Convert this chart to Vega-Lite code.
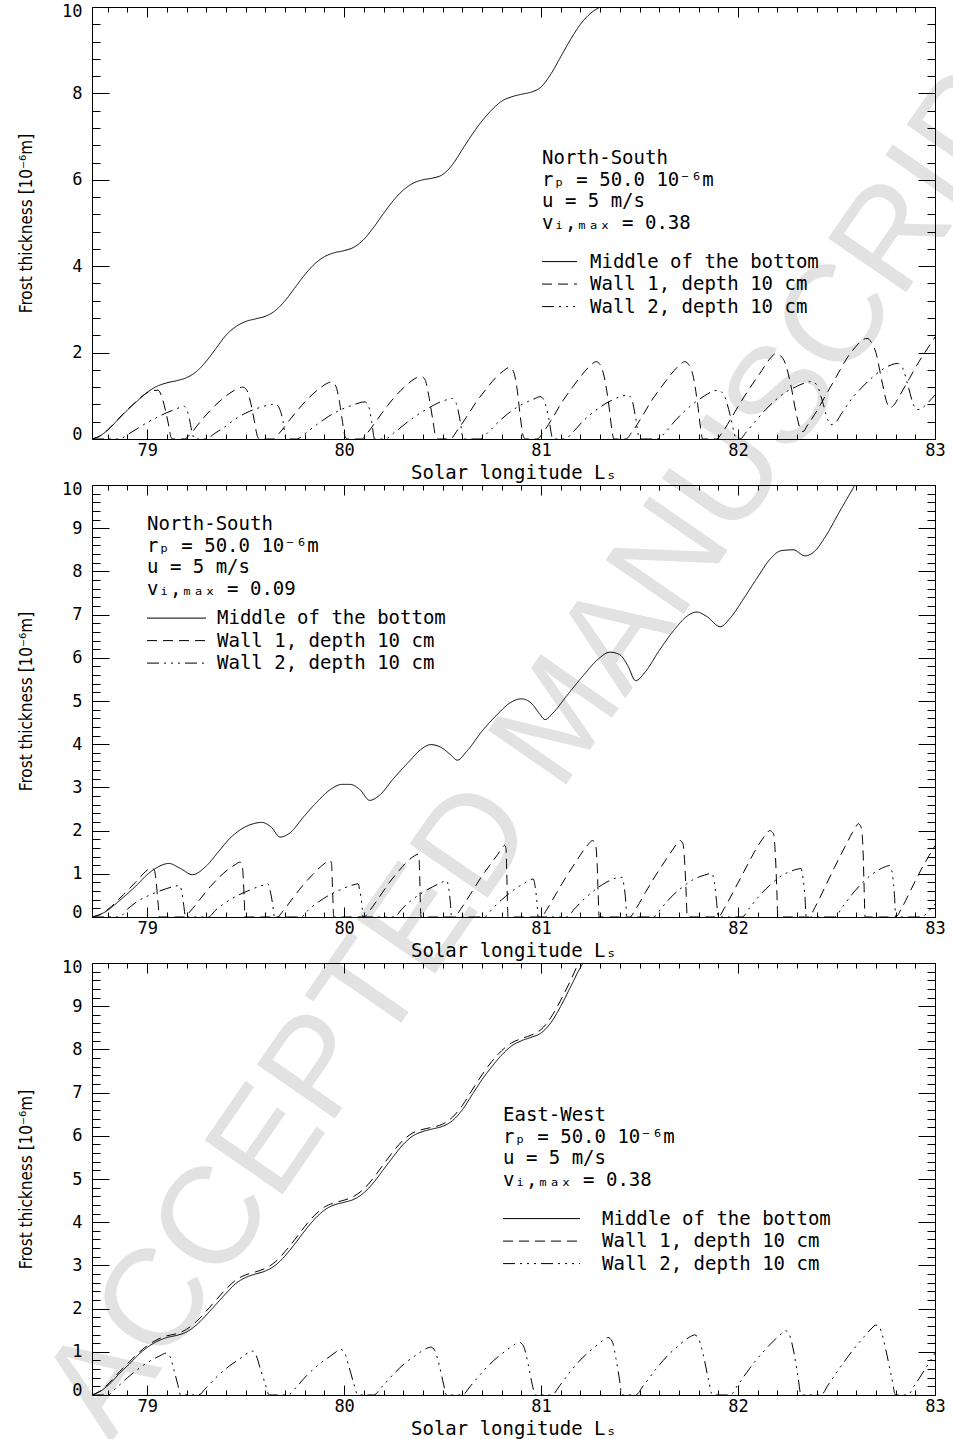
{
  "$schema": "https://vega.github.io/schema/vega-lite/v6.json",
  "autosize": "none",
  "padding": {"left": 92, "top": 7, "right": 861, "bottom": 1432},
  "background": "white",
  "bounds": "flush",
  "spacing": 46,
  "resolve": {"scale": {"strokeDash": "independent"}},
  "config": {
    "view": {"stroke": null},
    "axis": {"domainColor": "black", "tickColor": "black", "labelColor": "black", "titleColor": "black", "grid": false, "labelFont": "DejaVu Sans Mono", "labelFontSize": 17, "tickWidth": 1, "domainWidth": 1, "titleFontWeight": "normal", "labelOverlap": false},
    "legend": {"titleFont": "DejaVu Sans Mono", "titleFontSize": 19, "titleFontWeight": "normal", "titleColor": "black", "titleLineHeight": 21.7, "labelFont": "DejaVu Sans Mono", "labelFontSize": 19, "labelColor": "black", "symbolSize": 100, "symbolStrokeColor": "black", "symbolStrokeWidth": 1, "rowPadding": 2.5, "padding": 0, "offset": 0, "labelLimit": 0, "orient": "none"}
  },
  "datasets": {
    "p1": [
      {"x":78.72,"y":0,"s":"Middle of the bottom"},{"x":78.76,"y":0.07,"s":"Middle of the bottom"},{"x":78.8,"y":0.21,"s":"Middle of the bottom"},{"x":78.85,"y":0.44,"s":"Middle of the bottom"},{"x":78.9,"y":0.67,"s":"Middle of the bottom"},{"x":78.95,"y":0.88,"s":"Middle of the bottom"},{"x":79.0,"y":1.08,"s":"Middle of the bottom"},{"x":79.05,"y":1.22,"s":"Middle of the bottom"},{"x":79.1,"y":1.3,"s":"Middle of the bottom"},{"x":79.15,"y":1.35,"s":"Middle of the bottom"},{"x":79.2,"y":1.42,"s":"Middle of the bottom"},{"x":79.25,"y":1.56,"s":"Middle of the bottom"},{"x":79.3,"y":1.8,"s":"Middle of the bottom"},{"x":79.35,"y":2.1,"s":"Middle of the bottom"},{"x":79.4,"y":2.4,"s":"Middle of the bottom"},{"x":79.45,"y":2.6,"s":"Middle of the bottom"},{"x":79.5,"y":2.72,"s":"Middle of the bottom"},{"x":79.55,"y":2.78,"s":"Middle of the bottom"},{"x":79.6,"y":2.84,"s":"Middle of the bottom"},{"x":79.65,"y":2.97,"s":"Middle of the bottom"},{"x":79.7,"y":3.2,"s":"Middle of the bottom"},{"x":79.75,"y":3.5,"s":"Middle of the bottom"},{"x":79.8,"y":3.8,"s":"Middle of the bottom"},{"x":79.85,"y":4.05,"s":"Middle of the bottom"},{"x":79.9,"y":4.22,"s":"Middle of the bottom"},{"x":79.95,"y":4.31,"s":"Middle of the bottom"},{"x":80.0,"y":4.36,"s":"Middle of the bottom"},{"x":80.05,"y":4.44,"s":"Middle of the bottom"},{"x":80.1,"y":4.62,"s":"Middle of the bottom"},{"x":80.15,"y":4.9,"s":"Middle of the bottom"},{"x":80.2,"y":5.22,"s":"Middle of the bottom"},{"x":80.25,"y":5.52,"s":"Middle of the bottom"},{"x":80.3,"y":5.76,"s":"Middle of the bottom"},{"x":80.35,"y":5.92,"s":"Middle of the bottom"},{"x":80.4,"y":6.0,"s":"Middle of the bottom"},{"x":80.45,"y":6.04,"s":"Middle of the bottom"},{"x":80.5,"y":6.12,"s":"Middle of the bottom"},{"x":80.55,"y":6.35,"s":"Middle of the bottom"},{"x":80.6,"y":6.7,"s":"Middle of the bottom"},{"x":80.65,"y":7.05,"s":"Middle of the bottom"},{"x":80.7,"y":7.36,"s":"Middle of the bottom"},{"x":80.75,"y":7.62,"s":"Middle of the bottom"},{"x":80.8,"y":7.82,"s":"Middle of the bottom"},{"x":80.85,"y":7.92,"s":"Middle of the bottom"},{"x":80.9,"y":7.98,"s":"Middle of the bottom"},{"x":80.95,"y":8.03,"s":"Middle of the bottom"},{"x":81.0,"y":8.15,"s":"Middle of the bottom"},{"x":81.05,"y":8.45,"s":"Middle of the bottom"},{"x":81.1,"y":8.85,"s":"Middle of the bottom"},{"x":81.15,"y":9.25,"s":"Middle of the bottom"},{"x":81.2,"y":9.6,"s":"Middle of the bottom"},{"x":81.25,"y":9.85,"s":"Middle of the bottom"},{"x":81.3,"y":10.0,"s":"Middle of the bottom"},

      {"x":78.72,"y":0,"s":"Wall 1, depth 10 cm"},{"x":78.76,"y":0.07,"s":"Wall 1, depth 10 cm"},{"x":78.8,"y":0.21,"s":"Wall 1, depth 10 cm"},{"x":78.85,"y":0.45,"s":"Wall 1, depth 10 cm"},{"x":78.9,"y":0.68,"s":"Wall 1, depth 10 cm"},{"x":78.95,"y":0.89,"s":"Wall 1, depth 10 cm"},{"x":79.0,"y":1.07,"s":"Wall 1, depth 10 cm"},{"x":79.03,"y":1.12,"s":"Wall 1, depth 10 cm"},{"x":79.055,"y":1.13,"s":"Wall 1, depth 10 cm"},{"x":79.075,"y":0.97,"s":"Wall 1, depth 10 cm"},{"x":79.095,"y":0.62,"s":"Wall 1, depth 10 cm"},{"x":79.11,"y":0.3,"s":"Wall 1, depth 10 cm"},{"x":79.12,"y":0.06,"s":"Wall 1, depth 10 cm"},{"x":79.13,"y":0,"s":"Wall 1, depth 10 cm"},
      {"x":79.19,"y":0,"s":"Wall 1, depth 10 cm"},{"x":79.22,"y":0.12,"s":"Wall 1, depth 10 cm"},{"x":79.27,"y":0.4,"s":"Wall 1, depth 10 cm"},{"x":79.32,"y":0.66,"s":"Wall 1, depth 10 cm"},{"x":79.37,"y":0.88,"s":"Wall 1, depth 10 cm"},{"x":79.42,"y":1.06,"s":"Wall 1, depth 10 cm"},{"x":79.46,"y":1.17,"s":"Wall 1, depth 10 cm"},{"x":79.485,"y":1.2,"s":"Wall 1, depth 10 cm"},{"x":79.505,"y":1.14,"s":"Wall 1, depth 10 cm"},{"x":79.525,"y":0.85,"s":"Wall 1, depth 10 cm"},{"x":79.545,"y":0.4,"s":"Wall 1, depth 10 cm"},{"x":79.56,"y":0.06,"s":"Wall 1, depth 10 cm"},{"x":79.57,"y":0,"s":"Wall 1, depth 10 cm"},
      {"x":79.64,"y":0,"s":"Wall 1, depth 10 cm"},{"x":79.67,"y":0.13,"s":"Wall 1, depth 10 cm"},{"x":79.72,"y":0.42,"s":"Wall 1, depth 10 cm"},{"x":79.77,"y":0.7,"s":"Wall 1, depth 10 cm"},{"x":79.82,"y":0.95,"s":"Wall 1, depth 10 cm"},{"x":79.87,"y":1.15,"s":"Wall 1, depth 10 cm"},{"x":79.91,"y":1.28,"s":"Wall 1, depth 10 cm"},{"x":79.935,"y":1.32,"s":"Wall 1, depth 10 cm"},{"x":79.955,"y":1.25,"s":"Wall 1, depth 10 cm"},{"x":79.975,"y":0.9,"s":"Wall 1, depth 10 cm"},{"x":79.99,"y":0.45,"s":"Wall 1, depth 10 cm"},{"x":80.005,"y":0.06,"s":"Wall 1, depth 10 cm"},{"x":80.015,"y":0,"s":"Wall 1, depth 10 cm"},
      {"x":80.09,"y":0,"s":"Wall 1, depth 10 cm"},{"x":80.12,"y":0.15,"s":"Wall 1, depth 10 cm"},{"x":80.17,"y":0.46,"s":"Wall 1, depth 10 cm"},{"x":80.22,"y":0.77,"s":"Wall 1, depth 10 cm"},{"x":80.27,"y":1.04,"s":"Wall 1, depth 10 cm"},{"x":80.32,"y":1.26,"s":"Wall 1, depth 10 cm"},{"x":80.36,"y":1.4,"s":"Wall 1, depth 10 cm"},{"x":80.39,"y":1.45,"s":"Wall 1, depth 10 cm"},{"x":80.41,"y":1.38,"s":"Wall 1, depth 10 cm"},{"x":80.43,"y":1.0,"s":"Wall 1, depth 10 cm"},{"x":80.45,"y":0.45,"s":"Wall 1, depth 10 cm"},{"x":80.465,"y":0.06,"s":"Wall 1, depth 10 cm"},{"x":80.475,"y":0,"s":"Wall 1, depth 10 cm"},
      {"x":80.54,"y":0,"s":"Wall 1, depth 10 cm"},{"x":80.57,"y":0.17,"s":"Wall 1, depth 10 cm"},{"x":80.62,"y":0.5,"s":"Wall 1, depth 10 cm"},{"x":80.67,"y":0.85,"s":"Wall 1, depth 10 cm"},{"x":80.72,"y":1.15,"s":"Wall 1, depth 10 cm"},{"x":80.77,"y":1.42,"s":"Wall 1, depth 10 cm"},{"x":80.81,"y":1.58,"s":"Wall 1, depth 10 cm"},{"x":80.84,"y":1.66,"s":"Wall 1, depth 10 cm"},{"x":80.86,"y":1.56,"s":"Wall 1, depth 10 cm"},{"x":80.88,"y":1.1,"s":"Wall 1, depth 10 cm"},{"x":80.895,"y":0.5,"s":"Wall 1, depth 10 cm"},{"x":80.91,"y":0.06,"s":"Wall 1, depth 10 cm"},{"x":80.92,"y":0,"s":"Wall 1, depth 10 cm"},
      {"x":80.98,"y":0,"s":"Wall 1, depth 10 cm"},{"x":81.01,"y":0.15,"s":"Wall 1, depth 10 cm"},{"x":81.06,"y":0.5,"s":"Wall 1, depth 10 cm"},{"x":81.11,"y":0.88,"s":"Wall 1, depth 10 cm"},{"x":81.16,"y":1.2,"s":"Wall 1, depth 10 cm"},{"x":81.21,"y":1.5,"s":"Wall 1, depth 10 cm"},{"x":81.25,"y":1.7,"s":"Wall 1, depth 10 cm"},{"x":81.28,"y":1.79,"s":"Wall 1, depth 10 cm"},{"x":81.3,"y":1.72,"s":"Wall 1, depth 10 cm"},{"x":81.32,"y":1.45,"s":"Wall 1, depth 10 cm"},{"x":81.345,"y":0.75,"s":"Wall 1, depth 10 cm"},{"x":81.36,"y":0.2,"s":"Wall 1, depth 10 cm"},{"x":81.37,"y":0,"s":"Wall 1, depth 10 cm"},
      {"x":81.43,"y":0,"s":"Wall 1, depth 10 cm"},{"x":81.46,"y":0.15,"s":"Wall 1, depth 10 cm"},{"x":81.51,"y":0.5,"s":"Wall 1, depth 10 cm"},{"x":81.56,"y":0.88,"s":"Wall 1, depth 10 cm"},{"x":81.61,"y":1.2,"s":"Wall 1, depth 10 cm"},{"x":81.66,"y":1.5,"s":"Wall 1, depth 10 cm"},{"x":81.7,"y":1.7,"s":"Wall 1, depth 10 cm"},{"x":81.73,"y":1.79,"s":"Wall 1, depth 10 cm"},{"x":81.75,"y":1.72,"s":"Wall 1, depth 10 cm"},{"x":81.77,"y":1.5,"s":"Wall 1, depth 10 cm"},{"x":81.795,"y":0.8,"s":"Wall 1, depth 10 cm"},{"x":81.81,"y":0.25,"s":"Wall 1, depth 10 cm"},{"x":81.82,"y":0,"s":"Wall 1, depth 10 cm"},
      {"x":81.89,"y":0,"s":"Wall 1, depth 10 cm"},{"x":81.92,"y":0.15,"s":"Wall 1, depth 10 cm"},{"x":81.97,"y":0.52,"s":"Wall 1, depth 10 cm"},{"x":82.02,"y":0.9,"s":"Wall 1, depth 10 cm"},{"x":82.07,"y":1.25,"s":"Wall 1, depth 10 cm"},{"x":82.12,"y":1.58,"s":"Wall 1, depth 10 cm"},{"x":82.16,"y":1.85,"s":"Wall 1, depth 10 cm"},{"x":82.195,"y":1.98,"s":"Wall 1, depth 10 cm"},{"x":82.215,"y":1.93,"s":"Wall 1, depth 10 cm"},{"x":82.24,"y":1.75,"s":"Wall 1, depth 10 cm"},{"x":82.27,"y":1.2,"s":"Wall 1, depth 10 cm"},{"x":82.295,"y":0.6,"s":"Wall 1, depth 10 cm"},{"x":82.315,"y":0.25,"s":"Wall 1, depth 10 cm"},{"x":82.33,"y":0.17,"s":"Wall 1, depth 10 cm"},{"x":82.35,"y":0.3,"s":"Wall 1, depth 10 cm"},
      {"x":82.4,"y":0.65,"s":"Wall 1, depth 10 cm"},{"x":82.45,"y":1.05,"s":"Wall 1, depth 10 cm"},{"x":82.5,"y":1.45,"s":"Wall 1, depth 10 cm"},{"x":82.55,"y":1.85,"s":"Wall 1, depth 10 cm"},{"x":82.6,"y":2.15,"s":"Wall 1, depth 10 cm"},{"x":82.635,"y":2.3,"s":"Wall 1, depth 10 cm"},{"x":82.655,"y":2.33,"s":"Wall 1, depth 10 cm"},{"x":82.675,"y":2.25,"s":"Wall 1, depth 10 cm"},{"x":82.7,"y":2.0,"s":"Wall 1, depth 10 cm"},{"x":82.73,"y":1.35,"s":"Wall 1, depth 10 cm"},{"x":82.755,"y":0.85,"s":"Wall 1, depth 10 cm"},{"x":82.77,"y":0.72,"s":"Wall 1, depth 10 cm"},{"x":82.79,"y":0.78,"s":"Wall 1, depth 10 cm"},{"x":82.82,"y":1.0,"s":"Wall 1, depth 10 cm"},{"x":82.87,"y":1.4,"s":"Wall 1, depth 10 cm"},{"x":82.92,"y":1.8,"s":"Wall 1, depth 10 cm"},{"x":82.97,"y":2.15,"s":"Wall 1, depth 10 cm"},{"x":83.0,"y":2.36,"s":"Wall 1, depth 10 cm"},

      {"x":78.72,"y":0,"s":"Wall 2, depth 10 cm"},{"x":78.86,"y":0,"s":"Wall 2, depth 10 cm"},{"x":78.9,"y":0.1,"s":"Wall 2, depth 10 cm"},{"x":78.95,"y":0.24,"s":"Wall 2, depth 10 cm"},{"x":79.0,"y":0.38,"s":"Wall 2, depth 10 cm"},{"x":79.05,"y":0.5,"s":"Wall 2, depth 10 cm"},{"x":79.1,"y":0.61,"s":"Wall 2, depth 10 cm"},{"x":79.15,"y":0.7,"s":"Wall 2, depth 10 cm"},{"x":79.185,"y":0.76,"s":"Wall 2, depth 10 cm"},{"x":79.2,"y":0.7,"s":"Wall 2, depth 10 cm"},{"x":79.215,"y":0.45,"s":"Wall 2, depth 10 cm"},{"x":79.23,"y":0.12,"s":"Wall 2, depth 10 cm"},{"x":79.24,"y":0,"s":"Wall 2, depth 10 cm"},
      {"x":79.3,"y":0,"s":"Wall 2, depth 10 cm"},{"x":79.34,"y":0.12,"s":"Wall 2, depth 10 cm"},{"x":79.4,"y":0.3,"s":"Wall 2, depth 10 cm"},{"x":79.46,"y":0.5,"s":"Wall 2, depth 10 cm"},{"x":79.52,"y":0.64,"s":"Wall 2, depth 10 cm"},{"x":79.58,"y":0.74,"s":"Wall 2, depth 10 cm"},{"x":79.63,"y":0.8,"s":"Wall 2, depth 10 cm"},{"x":79.65,"y":0.81,"s":"Wall 2, depth 10 cm"},{"x":79.67,"y":0.72,"s":"Wall 2, depth 10 cm"},{"x":79.69,"y":0.4,"s":"Wall 2, depth 10 cm"},{"x":79.7,"y":0.1,"s":"Wall 2, depth 10 cm"},{"x":79.71,"y":0,"s":"Wall 2, depth 10 cm"},
      {"x":79.76,"y":0,"s":"Wall 2, depth 10 cm"},{"x":79.8,"y":0.12,"s":"Wall 2, depth 10 cm"},{"x":79.86,"y":0.33,"s":"Wall 2, depth 10 cm"},{"x":79.92,"y":0.52,"s":"Wall 2, depth 10 cm"},{"x":79.98,"y":0.67,"s":"Wall 2, depth 10 cm"},{"x":80.04,"y":0.78,"s":"Wall 2, depth 10 cm"},{"x":80.08,"y":0.84,"s":"Wall 2, depth 10 cm"},{"x":80.105,"y":0.86,"s":"Wall 2, depth 10 cm"},{"x":80.125,"y":0.75,"s":"Wall 2, depth 10 cm"},{"x":80.14,"y":0.4,"s":"Wall 2, depth 10 cm"},{"x":80.155,"y":0,"s":"Wall 2, depth 10 cm"},
      {"x":80.21,"y":0,"s":"Wall 2, depth 10 cm"},{"x":80.25,"y":0.13,"s":"Wall 2, depth 10 cm"},{"x":80.31,"y":0.35,"s":"Wall 2, depth 10 cm"},{"x":80.37,"y":0.55,"s":"Wall 2, depth 10 cm"},{"x":80.43,"y":0.72,"s":"Wall 2, depth 10 cm"},{"x":80.49,"y":0.86,"s":"Wall 2, depth 10 cm"},{"x":80.53,"y":0.92,"s":"Wall 2, depth 10 cm"},{"x":80.55,"y":0.94,"s":"Wall 2, depth 10 cm"},{"x":80.57,"y":0.82,"s":"Wall 2, depth 10 cm"},{"x":80.59,"y":0.4,"s":"Wall 2, depth 10 cm"},{"x":80.605,"y":0,"s":"Wall 2, depth 10 cm"},
      {"x":80.69,"y":0,"s":"Wall 2, depth 10 cm"},{"x":80.73,"y":0.15,"s":"Wall 2, depth 10 cm"},{"x":80.78,"y":0.38,"s":"Wall 2, depth 10 cm"},{"x":80.83,"y":0.58,"s":"Wall 2, depth 10 cm"},{"x":80.88,"y":0.74,"s":"Wall 2, depth 10 cm"},{"x":80.93,"y":0.86,"s":"Wall 2, depth 10 cm"},{"x":80.97,"y":0.94,"s":"Wall 2, depth 10 cm"},{"x":80.995,"y":0.98,"s":"Wall 2, depth 10 cm"},{"x":81.015,"y":0.9,"s":"Wall 2, depth 10 cm"},{"x":81.04,"y":0.45,"s":"Wall 2, depth 10 cm"},{"x":81.06,"y":0,"s":"Wall 2, depth 10 cm"},
      {"x":81.12,"y":0,"s":"Wall 2, depth 10 cm"},{"x":81.16,"y":0.15,"s":"Wall 2, depth 10 cm"},{"x":81.21,"y":0.4,"s":"Wall 2, depth 10 cm"},{"x":81.26,"y":0.6,"s":"Wall 2, depth 10 cm"},{"x":81.31,"y":0.77,"s":"Wall 2, depth 10 cm"},{"x":81.36,"y":0.9,"s":"Wall 2, depth 10 cm"},{"x":81.41,"y":0.99,"s":"Wall 2, depth 10 cm"},{"x":81.44,"y":1.02,"s":"Wall 2, depth 10 cm"},{"x":81.46,"y":0.92,"s":"Wall 2, depth 10 cm"},{"x":81.48,"y":0.5,"s":"Wall 2, depth 10 cm"},{"x":81.5,"y":0,"s":"Wall 2, depth 10 cm"},
      {"x":81.59,"y":0,"s":"Wall 2, depth 10 cm"},{"x":81.63,"y":0.15,"s":"Wall 2, depth 10 cm"},{"x":81.68,"y":0.42,"s":"Wall 2, depth 10 cm"},{"x":81.73,"y":0.65,"s":"Wall 2, depth 10 cm"},{"x":81.78,"y":0.84,"s":"Wall 2, depth 10 cm"},{"x":81.83,"y":1.0,"s":"Wall 2, depth 10 cm"},{"x":81.87,"y":1.1,"s":"Wall 2, depth 10 cm"},{"x":81.9,"y":1.13,"s":"Wall 2, depth 10 cm"},{"x":81.93,"y":1.0,"s":"Wall 2, depth 10 cm"},{"x":81.96,"y":0.55,"s":"Wall 2, depth 10 cm"},{"x":81.98,"y":0.15,"s":"Wall 2, depth 10 cm"},{"x":81.99,"y":0,"s":"Wall 2, depth 10 cm"},
      {"x":82.01,"y":0,"s":"Wall 2, depth 10 cm"},{"x":82.04,"y":0.15,"s":"Wall 2, depth 10 cm"},{"x":82.09,"y":0.42,"s":"Wall 2, depth 10 cm"},{"x":82.14,"y":0.68,"s":"Wall 2, depth 10 cm"},{"x":82.19,"y":0.9,"s":"Wall 2, depth 10 cm"},{"x":82.24,"y":1.08,"s":"Wall 2, depth 10 cm"},{"x":82.29,"y":1.2,"s":"Wall 2, depth 10 cm"},{"x":82.34,"y":1.3,"s":"Wall 2, depth 10 cm"},{"x":82.375,"y":1.33,"s":"Wall 2, depth 10 cm"},{"x":82.4,"y":1.25,"s":"Wall 2, depth 10 cm"},{"x":82.43,"y":0.85,"s":"Wall 2, depth 10 cm"},{"x":82.455,"y":0.45,"s":"Wall 2, depth 10 cm"},{"x":82.47,"y":0.33,"s":"Wall 2, depth 10 cm"},{"x":82.49,"y":0.36,"s":"Wall 2, depth 10 cm"},{"x":82.53,"y":0.62,"s":"Wall 2, depth 10 cm"},{"x":82.58,"y":0.95,"s":"Wall 2, depth 10 cm"},{"x":82.63,"y":1.2,"s":"Wall 2, depth 10 cm"},{"x":82.68,"y":1.42,"s":"Wall 2, depth 10 cm"},{"x":82.73,"y":1.6,"s":"Wall 2, depth 10 cm"},{"x":82.78,"y":1.72,"s":"Wall 2, depth 10 cm"},{"x":82.81,"y":1.75,"s":"Wall 2, depth 10 cm"},{"x":82.835,"y":1.65,"s":"Wall 2, depth 10 cm"},{"x":82.865,"y":1.2,"s":"Wall 2, depth 10 cm"},{"x":82.89,"y":0.8,"s":"Wall 2, depth 10 cm"},{"x":82.91,"y":0.68,"s":"Wall 2, depth 10 cm"},{"x":82.93,"y":0.7,"s":"Wall 2, depth 10 cm"},{"x":82.96,"y":0.82,"s":"Wall 2, depth 10 cm"},{"x":83.0,"y":1.02,"s":"Wall 2, depth 10 cm"}
    ],
    "p2": [
      {"x":78.72,"y":0,"s":"Middle of the bottom"},{"x":78.78,"y":0.1,"s":"Middle of the bottom"},{"x":78.87,"y":0.42,"s":"Middle of the bottom"},{"x":78.95,"y":0.75,"s":"Middle of the bottom"},{"x":79.0,"y":0.98,"s":"Middle of the bottom"},{"x":79.06,"y":1.17,"s":"Middle of the bottom"},{"x":79.11,"y":1.24,"s":"Middle of the bottom"},{"x":79.17,"y":1.12,"s":"Middle of the bottom"},{"x":79.23,"y":0.98,"s":"Middle of the bottom"},{"x":79.3,"y":1.18,"s":"Middle of the bottom"},{"x":79.36,"y":1.5,"s":"Middle of the bottom"},{"x":79.42,"y":1.82,"s":"Middle of the bottom"},{"x":79.48,"y":2.04,"s":"Middle of the bottom"},{"x":79.54,"y":2.16,"s":"Middle of the bottom"},{"x":79.58,"y":2.19,"s":"Middle of the bottom"},{"x":79.63,"y":2.08,"s":"Middle of the bottom"},{"x":79.675,"y":1.85,"s":"Middle of the bottom"},{"x":79.72,"y":1.93,"s":"Middle of the bottom"},{"x":79.8,"y":2.35,"s":"Middle of the bottom"},{"x":79.87,"y":2.7,"s":"Middle of the bottom"},{"x":79.93,"y":2.95,"s":"Middle of the bottom"},{"x":79.99,"y":3.07,"s":"Middle of the bottom"},{"x":80.03,"y":3.07,"s":"Middle of the bottom"},{"x":80.08,"y":2.95,"s":"Middle of the bottom"},{"x":80.13,"y":2.7,"s":"Middle of the bottom"},{"x":80.18,"y":2.82,"s":"Middle of the bottom"},{"x":80.25,"y":3.2,"s":"Middle of the bottom"},{"x":80.33,"y":3.6,"s":"Middle of the bottom"},{"x":80.39,"y":3.88,"s":"Middle of the bottom"},{"x":80.44,"y":3.99,"s":"Middle of the bottom"},{"x":80.49,"y":3.93,"s":"Middle of the bottom"},{"x":80.54,"y":3.76,"s":"Middle of the bottom"},{"x":80.575,"y":3.63,"s":"Middle of the bottom"},{"x":80.62,"y":3.82,"s":"Middle of the bottom"},{"x":80.7,"y":4.3,"s":"Middle of the bottom"},{"x":80.78,"y":4.7,"s":"Middle of the bottom"},{"x":80.84,"y":4.95,"s":"Middle of the bottom"},{"x":80.9,"y":5.05,"s":"Middle of the bottom"},{"x":80.95,"y":4.95,"s":"Middle of the bottom"},{"x":80.99,"y":4.72,"s":"Middle of the bottom"},{"x":81.02,"y":4.57,"s":"Middle of the bottom"},{"x":81.06,"y":4.72,"s":"Middle of the bottom"},{"x":81.13,"y":5.12,"s":"Middle of the bottom"},{"x":81.22,"y":5.62,"s":"Middle of the bottom"},{"x":81.29,"y":5.97,"s":"Middle of the bottom"},{"x":81.35,"y":6.13,"s":"Middle of the bottom"},{"x":81.4,"y":6.07,"s":"Middle of the bottom"},{"x":81.44,"y":5.82,"s":"Middle of the bottom"},{"x":81.48,"y":5.47,"s":"Middle of the bottom"},{"x":81.53,"y":5.68,"s":"Middle of the bottom"},{"x":81.6,"y":6.17,"s":"Middle of the bottom"},{"x":81.68,"y":6.67,"s":"Middle of the bottom"},{"x":81.74,"y":6.96,"s":"Middle of the bottom"},{"x":81.79,"y":7.06,"s":"Middle of the bottom"},{"x":81.84,"y":6.96,"s":"Middle of the bottom"},{"x":81.91,"y":6.72,"s":"Middle of the bottom"},{"x":81.96,"y":6.92,"s":"Middle of the bottom"},{"x":82.03,"y":7.38,"s":"Middle of the bottom"},{"x":82.1,"y":7.87,"s":"Middle of the bottom"},{"x":82.16,"y":8.27,"s":"Middle of the bottom"},{"x":82.22,"y":8.48,"s":"Middle of the bottom"},{"x":82.28,"y":8.5,"s":"Middle of the bottom"},{"x":82.34,"y":8.36,"s":"Middle of the bottom"},{"x":82.39,"y":8.47,"s":"Middle of the bottom"},{"x":82.44,"y":8.78,"s":"Middle of the bottom"},{"x":82.52,"y":9.42,"s":"Middle of the bottom"},{"x":82.6,"y":10.05,"s":"Middle of the bottom"},

      {"x":78.72,"y":0,"s":"Wall 1, depth 10 cm"},{"x":78.76,"y":0.05,"s":"Wall 1, depth 10 cm"},{"x":78.82,"y":0.25,"s":"Wall 1, depth 10 cm"},{"x":78.88,"y":0.52,"s":"Wall 1, depth 10 cm"},{"x":78.94,"y":0.8,"s":"Wall 1, depth 10 cm"},{"x":78.98,"y":1.0,"s":"Wall 1, depth 10 cm"},{"x":79.005,"y":1.1,"s":"Wall 1, depth 10 cm"},{"x":79.025,"y":1.13,"s":"Wall 1, depth 10 cm"},{"x":79.037,"y":1.08,"s":"Wall 1, depth 10 cm"},{"x":79.046,"y":0.8,"s":"Wall 1, depth 10 cm"},{"x":79.055,"y":0.35,"s":"Wall 1, depth 10 cm"},{"x":79.063,"y":0,"s":"Wall 1, depth 10 cm"},
      {"x":79.19,"y":0,"s":"Wall 1, depth 10 cm"},{"x":79.22,"y":0.14,"s":"Wall 1, depth 10 cm"},{"x":79.27,"y":0.42,"s":"Wall 1, depth 10 cm"},{"x":79.32,"y":0.7,"s":"Wall 1, depth 10 cm"},{"x":79.37,"y":0.94,"s":"Wall 1, depth 10 cm"},{"x":79.42,"y":1.13,"s":"Wall 1, depth 10 cm"},{"x":79.45,"y":1.22,"s":"Wall 1, depth 10 cm"},{"x":79.47,"y":1.27,"s":"Wall 1, depth 10 cm"},{"x":79.482,"y":1.22,"s":"Wall 1, depth 10 cm"},{"x":79.488,"y":0.9,"s":"Wall 1, depth 10 cm"},{"x":79.493,"y":0.4,"s":"Wall 1, depth 10 cm"},{"x":79.497,"y":0,"s":"Wall 1, depth 10 cm"},
      {"x":79.66,"y":0,"s":"Wall 1, depth 10 cm"},{"x":79.69,"y":0.14,"s":"Wall 1, depth 10 cm"},{"x":79.74,"y":0.44,"s":"Wall 1, depth 10 cm"},{"x":79.79,"y":0.73,"s":"Wall 1, depth 10 cm"},{"x":79.84,"y":0.98,"s":"Wall 1, depth 10 cm"},{"x":79.88,"y":1.16,"s":"Wall 1, depth 10 cm"},{"x":79.91,"y":1.27,"s":"Wall 1, depth 10 cm"},{"x":79.927,"y":1.31,"s":"Wall 1, depth 10 cm"},{"x":79.936,"y":1.25,"s":"Wall 1, depth 10 cm"},{"x":79.94,"y":0.8,"s":"Wall 1, depth 10 cm"},{"x":79.944,"y":0.3,"s":"Wall 1, depth 10 cm"},{"x":79.947,"y":0,"s":"Wall 1, depth 10 cm"},
      {"x":80.1,"y":0,"s":"Wall 1, depth 10 cm"},{"x":80.13,"y":0.15,"s":"Wall 1, depth 10 cm"},{"x":80.18,"y":0.47,"s":"Wall 1, depth 10 cm"},{"x":80.23,"y":0.8,"s":"Wall 1, depth 10 cm"},{"x":80.28,"y":1.08,"s":"Wall 1, depth 10 cm"},{"x":80.32,"y":1.28,"s":"Wall 1, depth 10 cm"},{"x":80.355,"y":1.41,"s":"Wall 1, depth 10 cm"},{"x":80.375,"y":1.45,"s":"Wall 1, depth 10 cm"},{"x":80.38,"y":1.38,"s":"Wall 1, depth 10 cm"},{"x":80.384,"y":0.9,"s":"Wall 1, depth 10 cm"},{"x":80.387,"y":0.35,"s":"Wall 1, depth 10 cm"},{"x":80.39,"y":0,"s":"Wall 1, depth 10 cm"},
      {"x":80.56,"y":0,"s":"Wall 1, depth 10 cm"},{"x":80.59,"y":0.17,"s":"Wall 1, depth 10 cm"},{"x":80.64,"y":0.52,"s":"Wall 1, depth 10 cm"},{"x":80.69,"y":0.88,"s":"Wall 1, depth 10 cm"},{"x":80.74,"y":1.2,"s":"Wall 1, depth 10 cm"},{"x":80.78,"y":1.45,"s":"Wall 1, depth 10 cm"},{"x":80.8,"y":1.58,"s":"Wall 1, depth 10 cm"},{"x":80.815,"y":1.66,"s":"Wall 1, depth 10 cm"},{"x":80.822,"y":1.58,"s":"Wall 1, depth 10 cm"},{"x":80.826,"y":1.0,"s":"Wall 1, depth 10 cm"},{"x":80.829,"y":0.4,"s":"Wall 1, depth 10 cm"},{"x":80.832,"y":0,"s":"Wall 1, depth 10 cm"},
      {"x":81.0,"y":0,"s":"Wall 1, depth 10 cm"},{"x":81.03,"y":0.18,"s":"Wall 1, depth 10 cm"},{"x":81.08,"y":0.57,"s":"Wall 1, depth 10 cm"},{"x":81.13,"y":0.95,"s":"Wall 1, depth 10 cm"},{"x":81.18,"y":1.3,"s":"Wall 1, depth 10 cm"},{"x":81.22,"y":1.57,"s":"Wall 1, depth 10 cm"},{"x":81.245,"y":1.71,"s":"Wall 1, depth 10 cm"},{"x":81.26,"y":1.77,"s":"Wall 1, depth 10 cm"},{"x":81.275,"y":1.7,"s":"Wall 1, depth 10 cm"},{"x":81.285,"y":1.2,"s":"Wall 1, depth 10 cm"},{"x":81.29,"y":0.5,"s":"Wall 1, depth 10 cm"},{"x":81.295,"y":0,"s":"Wall 1, depth 10 cm"},
      {"x":81.45,"y":0,"s":"Wall 1, depth 10 cm"},{"x":81.48,"y":0.18,"s":"Wall 1, depth 10 cm"},{"x":81.53,"y":0.57,"s":"Wall 1, depth 10 cm"},{"x":81.58,"y":0.95,"s":"Wall 1, depth 10 cm"},{"x":81.63,"y":1.3,"s":"Wall 1, depth 10 cm"},{"x":81.67,"y":1.57,"s":"Wall 1, depth 10 cm"},{"x":81.69,"y":1.7,"s":"Wall 1, depth 10 cm"},{"x":81.705,"y":1.77,"s":"Wall 1, depth 10 cm"},{"x":81.72,"y":1.7,"s":"Wall 1, depth 10 cm"},{"x":81.73,"y":1.2,"s":"Wall 1, depth 10 cm"},{"x":81.737,"y":0.5,"s":"Wall 1, depth 10 cm"},{"x":81.742,"y":0,"s":"Wall 1, depth 10 cm"},
      {"x":81.9,"y":0,"s":"Wall 1, depth 10 cm"},{"x":81.93,"y":0.2,"s":"Wall 1, depth 10 cm"},{"x":81.98,"y":0.62,"s":"Wall 1, depth 10 cm"},{"x":82.03,"y":1.05,"s":"Wall 1, depth 10 cm"},{"x":82.08,"y":1.48,"s":"Wall 1, depth 10 cm"},{"x":82.12,"y":1.78,"s":"Wall 1, depth 10 cm"},{"x":82.145,"y":1.93,"s":"Wall 1, depth 10 cm"},{"x":82.16,"y":2.0,"s":"Wall 1, depth 10 cm"},{"x":82.18,"y":1.93,"s":"Wall 1, depth 10 cm"},{"x":82.19,"y":1.4,"s":"Wall 1, depth 10 cm"},{"x":82.197,"y":0.6,"s":"Wall 1, depth 10 cm"},{"x":82.202,"y":0,"s":"Wall 1, depth 10 cm"},
      {"x":82.36,"y":0,"s":"Wall 1, depth 10 cm"},{"x":82.39,"y":0.22,"s":"Wall 1, depth 10 cm"},{"x":82.44,"y":0.68,"s":"Wall 1, depth 10 cm"},{"x":82.49,"y":1.15,"s":"Wall 1, depth 10 cm"},{"x":82.54,"y":1.6,"s":"Wall 1, depth 10 cm"},{"x":82.58,"y":1.95,"s":"Wall 1, depth 10 cm"},{"x":82.6,"y":2.1,"s":"Wall 1, depth 10 cm"},{"x":82.61,"y":2.16,"s":"Wall 1, depth 10 cm"},{"x":82.625,"y":2.08,"s":"Wall 1, depth 10 cm"},{"x":82.635,"y":1.5,"s":"Wall 1, depth 10 cm"},{"x":82.64,"y":0.7,"s":"Wall 1, depth 10 cm"},{"x":82.645,"y":0,"s":"Wall 1, depth 10 cm"},
      {"x":82.8,"y":0,"s":"Wall 1, depth 10 cm"},{"x":82.83,"y":0.2,"s":"Wall 1, depth 10 cm"},{"x":82.88,"y":0.65,"s":"Wall 1, depth 10 cm"},{"x":82.93,"y":1.1,"s":"Wall 1, depth 10 cm"},{"x":82.97,"y":1.42,"s":"Wall 1, depth 10 cm"},{"x":83.0,"y":1.65,"s":"Wall 1, depth 10 cm"},

      {"x":78.72,"y":0,"s":"Wall 2, depth 10 cm"},{"x":78.86,"y":0,"s":"Wall 2, depth 10 cm"},{"x":78.9,"y":0.18,"s":"Wall 2, depth 10 cm"},{"x":78.95,"y":0.36,"s":"Wall 2, depth 10 cm"},{"x":79.0,"y":0.48,"s":"Wall 2, depth 10 cm"},{"x":79.05,"y":0.58,"s":"Wall 2, depth 10 cm"},{"x":79.1,"y":0.66,"s":"Wall 2, depth 10 cm"},{"x":79.14,"y":0.71,"s":"Wall 2, depth 10 cm"},{"x":79.165,"y":0.73,"s":"Wall 2, depth 10 cm"},{"x":79.175,"y":0.6,"s":"Wall 2, depth 10 cm"},{"x":79.185,"y":0.3,"s":"Wall 2, depth 10 cm"},{"x":79.195,"y":0,"s":"Wall 2, depth 10 cm"},
      {"x":79.31,"y":0,"s":"Wall 2, depth 10 cm"},{"x":79.35,"y":0.17,"s":"Wall 2, depth 10 cm"},{"x":79.4,"y":0.34,"s":"Wall 2, depth 10 cm"},{"x":79.46,"y":0.5,"s":"Wall 2, depth 10 cm"},{"x":79.52,"y":0.62,"s":"Wall 2, depth 10 cm"},{"x":79.57,"y":0.71,"s":"Wall 2, depth 10 cm"},{"x":79.6,"y":0.75,"s":"Wall 2, depth 10 cm"},{"x":79.613,"y":0.77,"s":"Wall 2, depth 10 cm"},{"x":79.625,"y":0.6,"s":"Wall 2, depth 10 cm"},{"x":79.637,"y":0.3,"s":"Wall 2, depth 10 cm"},{"x":79.647,"y":0,"s":"Wall 2, depth 10 cm"},
      {"x":79.78,"y":0,"s":"Wall 2, depth 10 cm"},{"x":79.82,"y":0.17,"s":"Wall 2, depth 10 cm"},{"x":79.87,"y":0.35,"s":"Wall 2, depth 10 cm"},{"x":79.93,"y":0.52,"s":"Wall 2, depth 10 cm"},{"x":79.98,"y":0.63,"s":"Wall 2, depth 10 cm"},{"x":80.03,"y":0.72,"s":"Wall 2, depth 10 cm"},{"x":80.06,"y":0.76,"s":"Wall 2, depth 10 cm"},{"x":80.07,"y":0.77,"s":"Wall 2, depth 10 cm"},{"x":80.08,"y":0.6,"s":"Wall 2, depth 10 cm"},{"x":80.09,"y":0.3,"s":"Wall 2, depth 10 cm"},{"x":80.096,"y":0,"s":"Wall 2, depth 10 cm"},
      {"x":80.256,"y":0,"s":"Wall 2, depth 10 cm"},{"x":80.29,"y":0.17,"s":"Wall 2, depth 10 cm"},{"x":80.34,"y":0.38,"s":"Wall 2, depth 10 cm"},{"x":80.4,"y":0.57,"s":"Wall 2, depth 10 cm"},{"x":80.45,"y":0.7,"s":"Wall 2, depth 10 cm"},{"x":80.49,"y":0.79,"s":"Wall 2, depth 10 cm"},{"x":80.52,"y":0.84,"s":"Wall 2, depth 10 cm"},{"x":80.53,"y":0.7,"s":"Wall 2, depth 10 cm"},{"x":80.54,"y":0.3,"s":"Wall 2, depth 10 cm"},{"x":80.545,"y":0,"s":"Wall 2, depth 10 cm"},
      {"x":80.713,"y":0,"s":"Wall 2, depth 10 cm"},{"x":80.75,"y":0.18,"s":"Wall 2, depth 10 cm"},{"x":80.8,"y":0.4,"s":"Wall 2, depth 10 cm"},{"x":80.86,"y":0.62,"s":"Wall 2, depth 10 cm"},{"x":80.91,"y":0.77,"s":"Wall 2, depth 10 cm"},{"x":80.94,"y":0.85,"s":"Wall 2, depth 10 cm"},{"x":80.96,"y":0.88,"s":"Wall 2, depth 10 cm"},{"x":80.97,"y":0.7,"s":"Wall 2, depth 10 cm"},{"x":80.98,"y":0.3,"s":"Wall 2, depth 10 cm"},{"x":80.985,"y":0,"s":"Wall 2, depth 10 cm"},
      {"x":81.13,"y":0,"s":"Wall 2, depth 10 cm"},{"x":81.17,"y":0.19,"s":"Wall 2, depth 10 cm"},{"x":81.22,"y":0.42,"s":"Wall 2, depth 10 cm"},{"x":81.28,"y":0.65,"s":"Wall 2, depth 10 cm"},{"x":81.33,"y":0.8,"s":"Wall 2, depth 10 cm"},{"x":81.38,"y":0.9,"s":"Wall 2, depth 10 cm"},{"x":81.41,"y":0.92,"s":"Wall 2, depth 10 cm"},{"x":81.42,"y":0.75,"s":"Wall 2, depth 10 cm"},{"x":81.43,"y":0.35,"s":"Wall 2, depth 10 cm"},{"x":81.435,"y":0,"s":"Wall 2, depth 10 cm"},
      {"x":81.57,"y":0,"s":"Wall 2, depth 10 cm"},{"x":81.61,"y":0.2,"s":"Wall 2, depth 10 cm"},{"x":81.66,"y":0.46,"s":"Wall 2, depth 10 cm"},{"x":81.72,"y":0.7,"s":"Wall 2, depth 10 cm"},{"x":81.77,"y":0.86,"s":"Wall 2, depth 10 cm"},{"x":81.83,"y":0.97,"s":"Wall 2, depth 10 cm"},{"x":81.866,"y":1.01,"s":"Wall 2, depth 10 cm"},{"x":81.88,"y":0.8,"s":"Wall 2, depth 10 cm"},{"x":81.89,"y":0.4,"s":"Wall 2, depth 10 cm"},{"x":81.9,"y":0,"s":"Wall 2, depth 10 cm"},
      {"x":82.02,"y":0,"s":"Wall 2, depth 10 cm"},{"x":82.06,"y":0.22,"s":"Wall 2, depth 10 cm"},{"x":82.11,"y":0.5,"s":"Wall 2, depth 10 cm"},{"x":82.17,"y":0.77,"s":"Wall 2, depth 10 cm"},{"x":82.22,"y":0.95,"s":"Wall 2, depth 10 cm"},{"x":82.28,"y":1.08,"s":"Wall 2, depth 10 cm"},{"x":82.32,"y":1.12,"s":"Wall 2, depth 10 cm"},{"x":82.33,"y":0.9,"s":"Wall 2, depth 10 cm"},{"x":82.34,"y":0.45,"s":"Wall 2, depth 10 cm"},{"x":82.346,"y":0,"s":"Wall 2, depth 10 cm"},
      {"x":82.49,"y":0,"s":"Wall 2, depth 10 cm"},{"x":82.53,"y":0.23,"s":"Wall 2, depth 10 cm"},{"x":82.58,"y":0.53,"s":"Wall 2, depth 10 cm"},{"x":82.64,"y":0.83,"s":"Wall 2, depth 10 cm"},{"x":82.69,"y":1.02,"s":"Wall 2, depth 10 cm"},{"x":82.74,"y":1.15,"s":"Wall 2, depth 10 cm"},{"x":82.77,"y":1.19,"s":"Wall 2, depth 10 cm"},{"x":82.785,"y":0.95,"s":"Wall 2, depth 10 cm"},{"x":82.795,"y":0.45,"s":"Wall 2, depth 10 cm"},{"x":82.8,"y":0,"s":"Wall 2, depth 10 cm"},
      {"x":82.93,"y":0,"s":"Wall 2, depth 10 cm"},{"x":82.97,"y":0.15,"s":"Wall 2, depth 10 cm"},{"x":83.0,"y":0.3,"s":"Wall 2, depth 10 cm"}
    ],
    "p3": [
      {"x":78.72,"y":0,"s":"Middle of the bottom"},{"x":78.76,"y":0.08,"s":"Middle of the bottom"},{"x":78.81,"y":0.26,"s":"Middle of the bottom"},{"x":78.86,"y":0.5,"s":"Middle of the bottom"},{"x":78.91,"y":0.72,"s":"Middle of the bottom"},{"x":78.96,"y":0.95,"s":"Middle of the bottom"},{"x":79.0,"y":1.1,"s":"Middle of the bottom"},{"x":79.05,"y":1.24,"s":"Middle of the bottom"},{"x":79.1,"y":1.33,"s":"Middle of the bottom"},{"x":79.15,"y":1.38,"s":"Middle of the bottom"},{"x":79.2,"y":1.46,"s":"Middle of the bottom"},{"x":79.25,"y":1.62,"s":"Middle of the bottom"},{"x":79.3,"y":1.85,"s":"Middle of the bottom"},{"x":79.35,"y":2.1,"s":"Middle of the bottom"},{"x":79.4,"y":2.35,"s":"Middle of the bottom"},{"x":79.45,"y":2.58,"s":"Middle of the bottom"},{"x":79.5,"y":2.72,"s":"Middle of the bottom"},{"x":79.55,"y":2.8,"s":"Middle of the bottom"},{"x":79.6,"y":2.87,"s":"Middle of the bottom"},{"x":79.65,"y":3.0,"s":"Middle of the bottom"},{"x":79.7,"y":3.22,"s":"Middle of the bottom"},{"x":79.75,"y":3.5,"s":"Middle of the bottom"},{"x":79.8,"y":3.8,"s":"Middle of the bottom"},{"x":79.85,"y":4.07,"s":"Middle of the bottom"},{"x":79.9,"y":4.28,"s":"Middle of the bottom"},{"x":79.95,"y":4.4,"s":"Middle of the bottom"},{"x":80.0,"y":4.46,"s":"Middle of the bottom"},{"x":80.05,"y":4.53,"s":"Middle of the bottom"},{"x":80.1,"y":4.68,"s":"Middle of the bottom"},{"x":80.15,"y":4.92,"s":"Middle of the bottom"},{"x":80.2,"y":5.22,"s":"Middle of the bottom"},{"x":80.25,"y":5.52,"s":"Middle of the bottom"},{"x":80.3,"y":5.8,"s":"Middle of the bottom"},{"x":80.35,"y":6.0,"s":"Middle of the bottom"},{"x":80.4,"y":6.1,"s":"Middle of the bottom"},{"x":80.45,"y":6.16,"s":"Middle of the bottom"},{"x":80.5,"y":6.22,"s":"Middle of the bottom"},{"x":80.55,"y":6.35,"s":"Middle of the bottom"},{"x":80.6,"y":6.6,"s":"Middle of the bottom"},{"x":80.65,"y":6.95,"s":"Middle of the bottom"},{"x":80.7,"y":7.3,"s":"Middle of the bottom"},{"x":80.75,"y":7.6,"s":"Middle of the bottom"},{"x":80.8,"y":7.87,"s":"Middle of the bottom"},{"x":80.85,"y":8.08,"s":"Middle of the bottom"},{"x":80.9,"y":8.2,"s":"Middle of the bottom"},{"x":80.95,"y":8.28,"s":"Middle of the bottom"},{"x":81.0,"y":8.38,"s":"Middle of the bottom"},{"x":81.05,"y":8.62,"s":"Middle of the bottom"},{"x":81.1,"y":9.0,"s":"Middle of the bottom"},{"x":81.15,"y":9.45,"s":"Middle of the bottom"},{"x":81.2,"y":9.9,"s":"Middle of the bottom"},{"x":81.22,"y":10.05,"s":"Middle of the bottom"},

      {"x":78.72,"y":0,"s":"Wall 1, depth 10 cm"},{"x":78.76,"y":0.09,"s":"Wall 1, depth 10 cm"},{"x":78.81,"y":0.29,"s":"Wall 1, depth 10 cm"},{"x":78.86,"y":0.54,"s":"Wall 1, depth 10 cm"},{"x":78.91,"y":0.77,"s":"Wall 1, depth 10 cm"},{"x":78.96,"y":0.99,"s":"Wall 1, depth 10 cm"},{"x":79.0,"y":1.14,"s":"Wall 1, depth 10 cm"},{"x":79.05,"y":1.28,"s":"Wall 1, depth 10 cm"},{"x":79.1,"y":1.37,"s":"Wall 1, depth 10 cm"},{"x":79.15,"y":1.42,"s":"Wall 1, depth 10 cm"},{"x":79.2,"y":1.52,"s":"Wall 1, depth 10 cm"},{"x":79.25,"y":1.7,"s":"Wall 1, depth 10 cm"},{"x":79.3,"y":1.94,"s":"Wall 1, depth 10 cm"},{"x":79.35,"y":2.2,"s":"Wall 1, depth 10 cm"},{"x":79.4,"y":2.45,"s":"Wall 1, depth 10 cm"},{"x":79.45,"y":2.66,"s":"Wall 1, depth 10 cm"},{"x":79.5,"y":2.78,"s":"Wall 1, depth 10 cm"},{"x":79.55,"y":2.85,"s":"Wall 1, depth 10 cm"},{"x":79.6,"y":2.93,"s":"Wall 1, depth 10 cm"},{"x":79.65,"y":3.08,"s":"Wall 1, depth 10 cm"},{"x":79.7,"y":3.32,"s":"Wall 1, depth 10 cm"},{"x":79.75,"y":3.6,"s":"Wall 1, depth 10 cm"},{"x":79.8,"y":3.9,"s":"Wall 1, depth 10 cm"},{"x":79.85,"y":4.16,"s":"Wall 1, depth 10 cm"},{"x":79.9,"y":4.35,"s":"Wall 1, depth 10 cm"},{"x":79.95,"y":4.45,"s":"Wall 1, depth 10 cm"},{"x":80.0,"y":4.51,"s":"Wall 1, depth 10 cm"},{"x":80.05,"y":4.6,"s":"Wall 1, depth 10 cm"},{"x":80.1,"y":4.77,"s":"Wall 1, depth 10 cm"},{"x":80.15,"y":5.03,"s":"Wall 1, depth 10 cm"},{"x":80.2,"y":5.34,"s":"Wall 1, depth 10 cm"},{"x":80.25,"y":5.64,"s":"Wall 1, depth 10 cm"},{"x":80.3,"y":5.9,"s":"Wall 1, depth 10 cm"},{"x":80.35,"y":6.07,"s":"Wall 1, depth 10 cm"},{"x":80.4,"y":6.15,"s":"Wall 1, depth 10 cm"},{"x":80.45,"y":6.2,"s":"Wall 1, depth 10 cm"},{"x":80.5,"y":6.27,"s":"Wall 1, depth 10 cm"},{"x":80.55,"y":6.43,"s":"Wall 1, depth 10 cm"},{"x":80.6,"y":6.7,"s":"Wall 1, depth 10 cm"},{"x":80.65,"y":7.06,"s":"Wall 1, depth 10 cm"},{"x":80.7,"y":7.41,"s":"Wall 1, depth 10 cm"},{"x":80.75,"y":7.72,"s":"Wall 1, depth 10 cm"},{"x":80.8,"y":7.97,"s":"Wall 1, depth 10 cm"},{"x":80.85,"y":8.15,"s":"Wall 1, depth 10 cm"},{"x":80.9,"y":8.25,"s":"Wall 1, depth 10 cm"},{"x":80.95,"y":8.33,"s":"Wall 1, depth 10 cm"},{"x":81.0,"y":8.46,"s":"Wall 1, depth 10 cm"},{"x":81.05,"y":8.74,"s":"Wall 1, depth 10 cm"},{"x":81.1,"y":9.14,"s":"Wall 1, depth 10 cm"},{"x":81.15,"y":9.6,"s":"Wall 1, depth 10 cm"},{"x":81.19,"y":10.0,"s":"Wall 1, depth 10 cm"},

      {"x":78.72,"y":0,"s":"Wall 2, depth 10 cm"},{"x":78.8,"y":0,"s":"Wall 2, depth 10 cm"},{"x":78.84,"y":0.15,"s":"Wall 2, depth 10 cm"},{"x":78.9,"y":0.4,"s":"Wall 2, depth 10 cm"},{"x":78.96,"y":0.62,"s":"Wall 2, depth 10 cm"},{"x":79.02,"y":0.8,"s":"Wall 2, depth 10 cm"},{"x":79.07,"y":0.92,"s":"Wall 2, depth 10 cm"},{"x":79.096,"y":0.97,"s":"Wall 2, depth 10 cm"},{"x":79.115,"y":0.9,"s":"Wall 2, depth 10 cm"},{"x":79.135,"y":0.6,"s":"Wall 2, depth 10 cm"},{"x":79.155,"y":0.25,"s":"Wall 2, depth 10 cm"},{"x":79.17,"y":0,"s":"Wall 2, depth 10 cm"},
      {"x":79.26,"y":0,"s":"Wall 2, depth 10 cm"},{"x":79.3,"y":0.17,"s":"Wall 2, depth 10 cm"},{"x":79.36,"y":0.45,"s":"Wall 2, depth 10 cm"},{"x":79.42,"y":0.68,"s":"Wall 2, depth 10 cm"},{"x":79.48,"y":0.87,"s":"Wall 2, depth 10 cm"},{"x":79.51,"y":0.97,"s":"Wall 2, depth 10 cm"},{"x":79.53,"y":1.02,"s":"Wall 2, depth 10 cm"},{"x":79.55,"y":0.95,"s":"Wall 2, depth 10 cm"},{"x":79.575,"y":0.6,"s":"Wall 2, depth 10 cm"},{"x":79.6,"y":0.25,"s":"Wall 2, depth 10 cm"},{"x":79.62,"y":0,"s":"Wall 2, depth 10 cm"},
      {"x":79.715,"y":0,"s":"Wall 2, depth 10 cm"},{"x":79.755,"y":0.17,"s":"Wall 2, depth 10 cm"},{"x":79.81,"y":0.45,"s":"Wall 2, depth 10 cm"},{"x":79.87,"y":0.7,"s":"Wall 2, depth 10 cm"},{"x":79.93,"y":0.9,"s":"Wall 2, depth 10 cm"},{"x":79.96,"y":1.0,"s":"Wall 2, depth 10 cm"},{"x":79.98,"y":1.06,"s":"Wall 2, depth 10 cm"},{"x":80.0,"y":1.0,"s":"Wall 2, depth 10 cm"},{"x":80.025,"y":0.65,"s":"Wall 2, depth 10 cm"},{"x":80.05,"y":0.25,"s":"Wall 2, depth 10 cm"},{"x":80.07,"y":0,"s":"Wall 2, depth 10 cm"},
      {"x":80.15,"y":0,"s":"Wall 2, depth 10 cm"},{"x":80.19,"y":0.18,"s":"Wall 2, depth 10 cm"},{"x":80.25,"y":0.48,"s":"Wall 2, depth 10 cm"},{"x":80.31,"y":0.74,"s":"Wall 2, depth 10 cm"},{"x":80.37,"y":0.94,"s":"Wall 2, depth 10 cm"},{"x":80.42,"y":1.08,"s":"Wall 2, depth 10 cm"},{"x":80.44,"y":1.11,"s":"Wall 2, depth 10 cm"},{"x":80.46,"y":1.03,"s":"Wall 2, depth 10 cm"},{"x":80.485,"y":0.65,"s":"Wall 2, depth 10 cm"},{"x":80.505,"y":0.25,"s":"Wall 2, depth 10 cm"},{"x":80.52,"y":0,"s":"Wall 2, depth 10 cm"},
      {"x":80.6,"y":0,"s":"Wall 2, depth 10 cm"},{"x":80.64,"y":0.2,"s":"Wall 2, depth 10 cm"},{"x":80.7,"y":0.52,"s":"Wall 2, depth 10 cm"},{"x":80.76,"y":0.8,"s":"Wall 2, depth 10 cm"},{"x":80.82,"y":1.02,"s":"Wall 2, depth 10 cm"},{"x":80.87,"y":1.18,"s":"Wall 2, depth 10 cm"},{"x":80.89,"y":1.22,"s":"Wall 2, depth 10 cm"},{"x":80.91,"y":1.14,"s":"Wall 2, depth 10 cm"},{"x":80.935,"y":0.7,"s":"Wall 2, depth 10 cm"},{"x":80.955,"y":0.25,"s":"Wall 2, depth 10 cm"},{"x":80.97,"y":0,"s":"Wall 2, depth 10 cm"},
      {"x":81.055,"y":0,"s":"Wall 2, depth 10 cm"},{"x":81.095,"y":0.22,"s":"Wall 2, depth 10 cm"},{"x":81.15,"y":0.55,"s":"Wall 2, depth 10 cm"},{"x":81.21,"y":0.86,"s":"Wall 2, depth 10 cm"},{"x":81.27,"y":1.1,"s":"Wall 2, depth 10 cm"},{"x":81.32,"y":1.28,"s":"Wall 2, depth 10 cm"},{"x":81.34,"y":1.33,"s":"Wall 2, depth 10 cm"},{"x":81.36,"y":1.25,"s":"Wall 2, depth 10 cm"},{"x":81.38,"y":0.85,"s":"Wall 2, depth 10 cm"},{"x":81.4,"y":0.3,"s":"Wall 2, depth 10 cm"},{"x":81.41,"y":0,"s":"Wall 2, depth 10 cm"},
      {"x":81.48,"y":0,"s":"Wall 2, depth 10 cm"},{"x":81.52,"y":0.22,"s":"Wall 2, depth 10 cm"},{"x":81.58,"y":0.58,"s":"Wall 2, depth 10 cm"},{"x":81.64,"y":0.9,"s":"Wall 2, depth 10 cm"},{"x":81.7,"y":1.15,"s":"Wall 2, depth 10 cm"},{"x":81.75,"y":1.33,"s":"Wall 2, depth 10 cm"},{"x":81.78,"y":1.39,"s":"Wall 2, depth 10 cm"},{"x":81.8,"y":1.3,"s":"Wall 2, depth 10 cm"},{"x":81.825,"y":0.9,"s":"Wall 2, depth 10 cm"},{"x":81.85,"y":0.35,"s":"Wall 2, depth 10 cm"},{"x":81.87,"y":0,"s":"Wall 2, depth 10 cm"},
      {"x":81.96,"y":0,"s":"Wall 2, depth 10 cm"},{"x":82.0,"y":0.24,"s":"Wall 2, depth 10 cm"},{"x":82.06,"y":0.62,"s":"Wall 2, depth 10 cm"},{"x":82.12,"y":0.96,"s":"Wall 2, depth 10 cm"},{"x":82.18,"y":1.25,"s":"Wall 2, depth 10 cm"},{"x":82.22,"y":1.42,"s":"Wall 2, depth 10 cm"},{"x":82.24,"y":1.49,"s":"Wall 2, depth 10 cm"},{"x":82.26,"y":1.4,"s":"Wall 2, depth 10 cm"},{"x":82.285,"y":0.95,"s":"Wall 2, depth 10 cm"},{"x":82.305,"y":0.4,"s":"Wall 2, depth 10 cm"},{"x":82.32,"y":0,"s":"Wall 2, depth 10 cm"},
      {"x":82.42,"y":0,"s":"Wall 2, depth 10 cm"},{"x":82.46,"y":0.25,"s":"Wall 2, depth 10 cm"},{"x":82.52,"y":0.65,"s":"Wall 2, depth 10 cm"},{"x":82.58,"y":1.02,"s":"Wall 2, depth 10 cm"},{"x":82.64,"y":1.35,"s":"Wall 2, depth 10 cm"},{"x":82.68,"y":1.55,"s":"Wall 2, depth 10 cm"},{"x":82.7,"y":1.62,"s":"Wall 2, depth 10 cm"},{"x":82.72,"y":1.55,"s":"Wall 2, depth 10 cm"},{"x":82.75,"y":1.05,"s":"Wall 2, depth 10 cm"},{"x":82.78,"y":0.4,"s":"Wall 2, depth 10 cm"},{"x":82.8,"y":0,"s":"Wall 2, depth 10 cm"},
      {"x":82.86,"y":0,"s":"Wall 2, depth 10 cm"},{"x":82.9,"y":0.25,"s":"Wall 2, depth 10 cm"},{"x":82.95,"y":0.6,"s":"Wall 2, depth 10 cm"},{"x":83.0,"y":0.97,"s":"Wall 2, depth 10 cm"}
    ]
  },
  "vconcat": [
    {
      "width": 843, "height": 432,
      "data": {"name": "p1"},
      "resolve": {"axis": {"x": "independent", "y": "independent"}},
      "layer": [
        {
          "data": {"values": [{"wx": 81.1, "wy": -6.5, "t": "ACCEPTED MANUSCRIPT"}]},
          "mark": {"type": "text", "angle": -55.35, "fontSize": 138, "font": "Liberation Sans", "color": "#e2e2e2", "align": "center", "baseline": "middle"},
          "encoding": {
            "x": {"field": "wx", "type": "quantitative", "axis": null, "scale": {"domain": [78.72, 83], "nice": false, "zero": false}},
            "y": {"field": "wy", "type": "quantitative", "axis": null, "scale": {"domain": [0, 10], "nice": false, "zero": false}},
            "text": {"field": "t"}
          }
        },
        {
          "transform": [{"filter": "datum.s === 'Middle of the bottom'"}],
          "mark": {"type": "line", "interpolate": "monotone", "strokeWidth": 1, "color": "black", "clip": true},
          "encoding": {
            "x": {"field": "x", "type": "quantitative", "scale": {"domain": [78.72, 83], "nice": false, "zero": false},
              "axis": {"orient": "bottom", "zindex": 2, "title": "Solar longitude Lₛ", "titleFont": "DejaVu Sans Mono", "titleFontSize": 19, "titlePadding": 0,
                "values": [78.8,78.9,79,79.1,79.2,79.3,79.4,79.5,79.6,79.7,79.8,79.9,80,80.1,80.2,80.3,80.4,80.5,80.6,80.7,80.8,80.9,81,81.1,81.2,81.3,81.4,81.5,81.6,81.7,81.8,81.9,82,82.1,82.2,82.3,82.4,82.5,82.6,82.7,82.8,82.9,83],
                "labelExpr": "datum.value % 1 === 0 ? format(datum.value, 'd') : ''", "labelFlush": false, "labelPadding": 13,
                "tickSize": {"condition": {"test": "datum.value % 1 === 0", "value": -10}, "value": -5}}},
            "y": {"field": "y", "type": "quantitative", "scale": {"domain": [0, 10], "nice": false, "zero": false},
              "axis": {"orient": "left", "zindex": 2, "title": "Frost thickness  [10⁻⁶m]", "titleFont": "Liberation Sans Narrow, DejaVu Sans Condensed, Liberation Sans", "titleFontSize": 17, "titlePadding": 26,
                "values": [0,0.4,0.8,1.2,1.6,2,2.4,2.8,3.2,3.6,4,4.4,4.8,5.2,5.6,6,6.4,6.8,7.2,7.6,8,8.4,8.8,9.2,9.6,10],
                "labelExpr": "datum.value % 2 === 0 ? format(datum.value, 'd') : ''", "labelFlush": true, "labelFlushOffset": 4, "labelPadding": 27,
                "tickSize": {"condition": {"test": "datum.value % 2 === 0", "value": -17}, "value": -8}}},
            "strokeDash": {"field": "s", "type": "nominal",
              "scale": {"domain": ["Middle of the bottom", "Wall 1, depth 10 cm", "Wall 2, depth 10 cm"], "range": [[1, 0], [10, 6], [12, 5, 2, 5, 2, 5, 2, 5]]},
              "legend": {"legendX": 450, "legendY": 142, "title": ["North-South", "rₚ = 50.0 10⁻⁶m", "u = 5 m/s", "vᵢ,ₘₐₓ = 0.38"], "titlePadding": 19,
                "symbolType": "M-3.5,0H3.5", "symbolOffset": 8, "labelOffset": 21}}
          }
        },
        {
          "transform": [{"filter": "datum.s !== 'Middle of the bottom'"}],
          "mark": {"type": "line", "interpolate": "monotone", "strokeWidth": 1, "color": "black", "clip": true},
          "encoding": {
            "x": {"field": "x", "type": "quantitative", "scale": {"domain": [78.72, 83], "nice": false, "zero": false},
              "axis": {"orient": "top", "zindex": 2, "title": null, "labels": false,
                "values": [78.8,78.9,79,79.1,79.2,79.3,79.4,79.5,79.6,79.7,79.8,79.9,80,80.1,80.2,80.3,80.4,80.5,80.6,80.7,80.8,80.9,81,81.1,81.2,81.3,81.4,81.5,81.6,81.7,81.8,81.9,82,82.1,82.2,82.3,82.4,82.5,82.6,82.7,82.8,82.9,83],
                "tickSize": {"condition": {"test": "datum.value % 1 === 0", "value": -10}, "value": -5}}},
            "y": {"field": "y", "type": "quantitative", "scale": {"domain": [0, 10], "nice": false, "zero": false},
              "axis": {"orient": "right", "zindex": 2, "title": null, "labels": false,
                "values": [0,0.4,0.8,1.2,1.6,2,2.4,2.8,3.2,3.6,4,4.4,4.8,5.2,5.6,6,6.4,6.8,7.2,7.6,8,8.4,8.8,9.2,9.6,10],
                "tickSize": {"condition": {"test": "datum.value % 2 === 0", "value": -17}, "value": -8}}},
            "strokeDash": {"field": "s", "type": "nominal",
              "scale": {"domain": ["Middle of the bottom", "Wall 1, depth 10 cm", "Wall 2, depth 10 cm"], "range": [[1, 0], [10, 6], [12, 5, 2, 5, 2, 5, 2, 5]]}}
          }
        }
      ]
    },
    {
      "width": 843, "height": 432,
      "data": {"name": "p2"},
      "resolve": {"axis": {"x": "independent", "y": "independent"}},
      "layer": [
        {
          "transform": [{"filter": "datum.s === 'Middle of the bottom'"}],
          "mark": {"type": "line", "interpolate": "monotone", "strokeWidth": 1, "color": "black", "clip": true},
          "encoding": {
            "x": {"field": "x", "type": "quantitative", "scale": {"domain": [78.72, 83], "nice": false, "zero": false},
              "axis": {"orient": "bottom", "title": "Solar longitude Lₛ", "titleFont": "DejaVu Sans Mono", "titleFontSize": 19, "titlePadding": 0,
                "values": [78.8,78.9,79,79.1,79.2,79.3,79.4,79.5,79.6,79.7,79.8,79.9,80,80.1,80.2,80.3,80.4,80.5,80.6,80.7,80.8,80.9,81,81.1,81.2,81.3,81.4,81.5,81.6,81.7,81.8,81.9,82,82.1,82.2,82.3,82.4,82.5,82.6,82.7,82.8,82.9,83],
                "labelExpr": "datum.value % 1 === 0 ? format(datum.value, 'd') : ''", "labelFlush": false, "labelPadding": 13,
                "tickSize": {"condition": {"test": "datum.value % 1 === 0", "value": -10}, "value": -5}}},
            "y": {"field": "y", "type": "quantitative", "scale": {"domain": [0, 10], "nice": false, "zero": false},
              "axis": {"orient": "left", "title": "Frost thickness  [10⁻⁶m]", "titleFont": "Liberation Sans Narrow, DejaVu Sans Condensed, Liberation Sans", "titleFontSize": 17, "titlePadding": 26,
                "values": [0,0.2,0.4,0.6,0.8,1,1.2,1.4,1.6,1.8,2,2.2,2.4,2.6,2.8,3,3.2,3.4,3.6,3.8,4,4.2,4.4,4.6,4.8,5,5.2,5.4,5.6,5.8,6,6.2,6.4,6.6,6.8,7,7.2,7.4,7.6,7.8,8,8.2,8.4,8.6,8.8,9,9.2,9.4,9.6,9.8,10],
                "labelExpr": "datum.value % 1 === 0 ? format(datum.value, 'd') : ''", "labelFlush": true, "labelFlushOffset": 4, "labelPadding": 27,
                "tickSize": {"condition": {"test": "datum.value % 1 === 0", "value": -17}, "value": -8}}},
            "strokeDash": {"field": "s", "type": "nominal",
              "scale": {"domain": ["Middle of the bottom", "Wall 1, depth 10 cm", "Wall 2, depth 10 cm"], "range": [[1, 0], [10, 6], [12, 5, 2, 5, 2, 5, 2, 5]]},
              "legend": {"legendX": 55, "legendY": 30, "title": ["North-South", "rₚ = 50.0 10⁻⁶m", "u = 5 m/s", "vᵢ,ₘₐₓ = 0.09"], "titlePadding": 9.5,
                "symbolType": "M-5.9,0H5.9", "symbolOffset": 20, "labelOffset": 31}}
          }
        },
        {
          "transform": [{"filter": "datum.s !== 'Middle of the bottom'"}],
          "mark": {"type": "line", "interpolate": "monotone", "strokeWidth": 1, "color": "black", "clip": true},
          "encoding": {
            "x": {"field": "x", "type": "quantitative", "scale": {"domain": [78.72, 83], "nice": false, "zero": false},
              "axis": {"orient": "top", "title": null, "labels": false,
                "values": [78.8,78.9,79,79.1,79.2,79.3,79.4,79.5,79.6,79.7,79.8,79.9,80,80.1,80.2,80.3,80.4,80.5,80.6,80.7,80.8,80.9,81,81.1,81.2,81.3,81.4,81.5,81.6,81.7,81.8,81.9,82,82.1,82.2,82.3,82.4,82.5,82.6,82.7,82.8,82.9,83],
                "tickSize": {"condition": {"test": "datum.value % 1 === 0", "value": -10}, "value": -5}}},
            "y": {"field": "y", "type": "quantitative", "scale": {"domain": [0, 10], "nice": false, "zero": false},
              "axis": {"orient": "right", "title": null, "labels": false,
                "values": [0,0.2,0.4,0.6,0.8,1,1.2,1.4,1.6,1.8,2,2.2,2.4,2.6,2.8,3,3.2,3.4,3.6,3.8,4,4.2,4.4,4.6,4.8,5,5.2,5.4,5.6,5.8,6,6.2,6.4,6.6,6.8,7,7.2,7.4,7.6,7.8,8,8.2,8.4,8.6,8.8,9,9.2,9.4,9.6,9.8,10],
                "tickSize": {"condition": {"test": "datum.value % 1 === 0", "value": -17}, "value": -8}}},
            "strokeDash": {"field": "s", "type": "nominal",
              "scale": {"domain": ["Middle of the bottom", "Wall 1, depth 10 cm", "Wall 2, depth 10 cm"], "range": [[1, 0], [10, 6], [12, 5, 2, 5, 2, 5, 2, 5]]}}
          }
        }
      ]
    },
    {
      "width": 843, "height": 432,
      "data": {"name": "p3"},
      "resolve": {"axis": {"x": "independent", "y": "independent"}},
      "layer": [
        {
          "transform": [{"filter": "datum.s === 'Middle of the bottom'"}],
          "mark": {"type": "line", "interpolate": "monotone", "strokeWidth": 1, "color": "black", "clip": true},
          "encoding": {
            "x": {"field": "x", "type": "quantitative", "scale": {"domain": [78.72, 83], "nice": false, "zero": false},
              "axis": {"orient": "bottom", "title": "Solar longitude Lₛ", "titleFont": "DejaVu Sans Mono", "titleFontSize": 19, "titlePadding": 0,
                "values": [78.8,78.9,79,79.1,79.2,79.3,79.4,79.5,79.6,79.7,79.8,79.9,80,80.1,80.2,80.3,80.4,80.5,80.6,80.7,80.8,80.9,81,81.1,81.2,81.3,81.4,81.5,81.6,81.7,81.8,81.9,82,82.1,82.2,82.3,82.4,82.5,82.6,82.7,82.8,82.9,83],
                "labelExpr": "datum.value % 1 === 0 ? format(datum.value, 'd') : ''", "labelFlush": false, "labelPadding": 13,
                "tickSize": {"condition": {"test": "datum.value % 1 === 0", "value": -10}, "value": -5}}},
            "y": {"field": "y", "type": "quantitative", "scale": {"domain": [0, 10], "nice": false, "zero": false},
              "axis": {"orient": "left", "title": "Frost thickness  [10⁻⁶m]", "titleFont": "Liberation Sans Narrow, DejaVu Sans Condensed, Liberation Sans", "titleFontSize": 17, "titlePadding": 26,
                "values": [0,0.2,0.4,0.6,0.8,1,1.2,1.4,1.6,1.8,2,2.2,2.4,2.6,2.8,3,3.2,3.4,3.6,3.8,4,4.2,4.4,4.6,4.8,5,5.2,5.4,5.6,5.8,6,6.2,6.4,6.6,6.8,7,7.2,7.4,7.6,7.8,8,8.2,8.4,8.6,8.8,9,9.2,9.4,9.6,9.8,10],
                "labelExpr": "datum.value % 1 === 0 ? format(datum.value, 'd') : ''", "labelFlush": true, "labelFlushOffset": 4, "labelPadding": 27,
                "tickSize": {"condition": {"test": "datum.value % 1 === 0", "value": -17}, "value": -8}}},
            "strokeDash": {"field": "s", "type": "nominal",
              "scale": {"domain": ["Middle of the bottom", "Wall 1, depth 10 cm", "Wall 2, depth 10 cm"], "range": [[1, 0], [10, 6], [12, 5, 2, 5, 2, 5, 2, 5]]},
              "legend": {"legendX": 411, "legendY": 143, "title": ["East-West", "rₚ = 50.0 10⁻⁶m", "u = 5 m/s", "vᵢ,ₘₐₓ = 0.38"], "titlePadding": 19,
                "symbolType": "M-7.7,0H7.7", "symbolOffset": 29, "labelOffset": 51}}
          }
        },
        {
          "transform": [{"filter": "datum.s !== 'Middle of the bottom'"}],
          "mark": {"type": "line", "interpolate": "monotone", "strokeWidth": 1, "color": "black", "clip": true},
          "encoding": {
            "x": {"field": "x", "type": "quantitative", "scale": {"domain": [78.72, 83], "nice": false, "zero": false},
              "axis": {"orient": "top", "title": null, "labels": false,
                "values": [78.8,78.9,79,79.1,79.2,79.3,79.4,79.5,79.6,79.7,79.8,79.9,80,80.1,80.2,80.3,80.4,80.5,80.6,80.7,80.8,80.9,81,81.1,81.2,81.3,81.4,81.5,81.6,81.7,81.8,81.9,82,82.1,82.2,82.3,82.4,82.5,82.6,82.7,82.8,82.9,83],
                "tickSize": {"condition": {"test": "datum.value % 1 === 0", "value": -10}, "value": -5}}},
            "y": {"field": "y", "type": "quantitative", "scale": {"domain": [0, 10], "nice": false, "zero": false},
              "axis": {"orient": "right", "title": null, "labels": false,
                "values": [0,0.2,0.4,0.6,0.8,1,1.2,1.4,1.6,1.8,2,2.2,2.4,2.6,2.8,3,3.2,3.4,3.6,3.8,4,4.2,4.4,4.6,4.8,5,5.2,5.4,5.6,5.8,6,6.2,6.4,6.6,6.8,7,7.2,7.4,7.6,7.8,8,8.2,8.4,8.6,8.8,9,9.2,9.4,9.6,9.8,10],
                "tickSize": {"condition": {"test": "datum.value % 1 === 0", "value": -17}, "value": -8}}},
            "strokeDash": {"field": "s", "type": "nominal",
              "scale": {"domain": ["Middle of the bottom", "Wall 1, depth 10 cm", "Wall 2, depth 10 cm"], "range": [[1, 0], [10, 6], [12, 5, 2, 5, 2, 5, 2, 5]]}}
          }
        }
      ]
    }
  ]
}
